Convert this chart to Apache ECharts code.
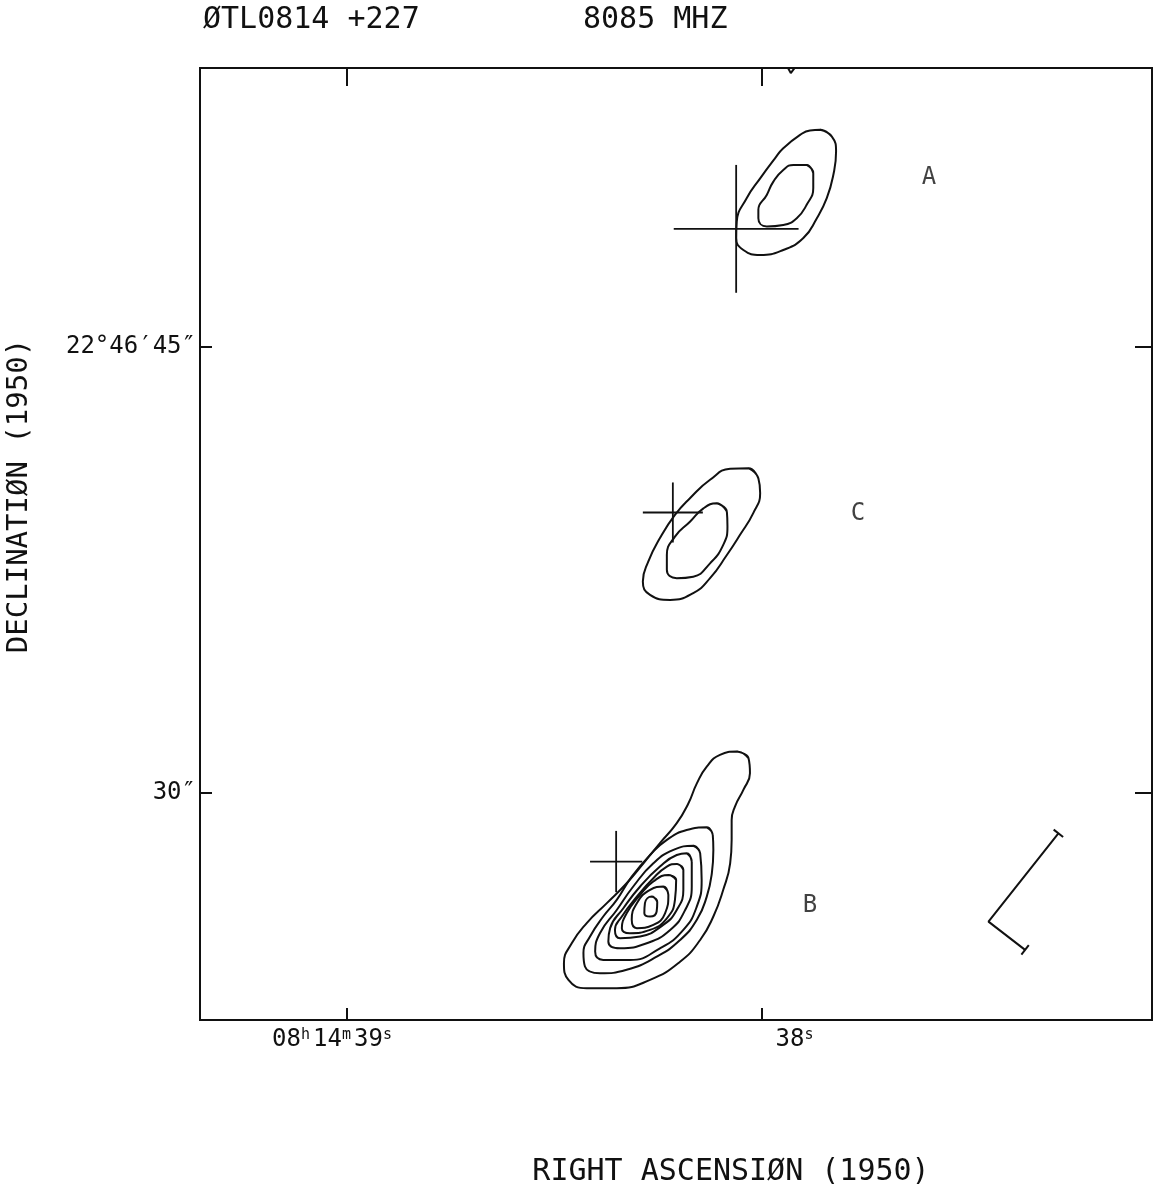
<!DOCTYPE html>
<html><head><meta charset="utf-8">
<script src="https://cdn.jsdelivr.net/npm/echarts@6/dist/echarts.min.js"></script>
<style>html,body{margin:0;padding:0;background:#fff}#c{width:1154px;height:1192px}</style>
</head><body><div id="c"></div><script>
// x: arcsec west of RA 08h14m39s (1s of time = 13.83"), y: Dec arcsec of 22°46'
const raTicks = [0, 13.83];
const raTickLabels = [['08','h','14','m','39','s'], ['38','s']];
const decTicks = [30, 45];
const decTickLabels = ['30″', '22°46′45″'];
const xRange = [-4.9, 26.83];
const yRange = [22.36, 54.38];

// component A
const contourA1 = [[15.77,52.30],[16.16,52.07],[16.30,51.57],[16.21,50.79],[15.99,50.00],[15.66,49.33],[15.21,48.66],[14.54,48.26],[13.77,48.09],[13.21,48.26],[12.97,48.66],[12.99,49.21],[13.32,50.00],[13.77,50.67],[14.27,51.35],[14.54,51.68],[15.10,52.13],[15.43,52.28]];
const contourA2 = [[15.32,51.12],[15.54,50.84],[15.54,50.34],[15.32,49.78],[14.99,49.33],[14.54,49.10],[13.99,49.05],[13.71,49.33],[13.71,49.61],[13.99,50.11],[14.21,50.56],[14.54,50.95],[14.88,51.12]];
// component C
const contourC1 = [[13.38,40.92],[13.71,40.58],[13.77,40.08],[13.54,39.41],[13.10,38.68],[12.66,38.00],[12.10,37.22],[11.54,36.72],[10.77,36.49],[10.10,36.66],[9.86,37.11],[10.04,37.78],[10.43,38.57],[10.93,39.35],[11.43,39.91],[12.10,40.53],[12.77,40.90]];
const contourC2 = [[12.32,39.74],[12.66,39.46],[12.68,38.96],[12.54,38.34],[12.10,37.72],[11.54,37.27],[10.99,37.22],[10.66,37.50],[10.66,38.00],[10.93,38.62],[11.43,39.12],[11.88,39.57]];
// component B
const contourB1 = [[12.99,31.39],[13.38,31.17],[13.43,30.66],[13.21,30.10],[12.93,29.54],[12.82,29.09],[12.82,28.42],[12.77,27.63],[12.54,26.74],[12.21,25.84],[11.77,25.05],[11.10,24.32],[10.10,23.71],[8.99,23.43],[7.99,23.43],[7.38,23.71],[7.23,24.27],[7.49,24.94],[7.99,25.62],[8.66,26.29],[9.32,26.96],[9.88,27.63],[10.43,28.31],[10.99,28.98],[11.38,29.65],[11.66,30.32],[11.99,30.88],[12.43,31.28]];
const contourB2 = [[11.99,28.84],[12.19,28.59],[12.21,28.08],[12.16,27.30],[11.99,26.51],[11.66,25.73],[11.10,25.05],[10.32,24.49],[9.32,24.05],[8.43,23.93],[7.93,24.16],[7.88,24.61],[8.10,25.17],[8.54,25.84],[8.99,26.40],[9.49,27.18],[10.10,27.91],[10.66,28.42],[11.32,28.75]];
const contourB3 = [[11.54,28.22],[11.77,27.97],[11.82,27.07],[11.66,26.18],[11.21,25.39],[10.43,24.77],[9.43,24.38],[8.54,24.38],[8.27,24.66],[8.43,25.28],[8.99,26.06],[9.54,26.85],[10.21,27.63],[10.88,28.08]];
const contourB4 = [[11.32,27.97],[11.49,27.69],[11.49,26.85],[11.27,26.06],[10.77,25.39],[9.99,24.94],[9.10,24.77],[8.71,25.00],[8.77,25.45],[9.21,26.12],[9.77,26.85],[10.43,27.52],[10.99,27.91]];
const contourB5 = [[10.99,27.61],[11.21,27.41],[11.21,26.74],[10.99,26.06],[10.54,25.56],[9.77,25.17],[9.10,25.11],[8.93,25.39],[9.16,25.84],[9.66,26.51],[10.21,27.13],[10.66,27.52]];
const contourB6 = [[10.71,27.24],[10.97,27.07],[10.93,26.40],[10.66,25.78],[10.10,25.39],[9.43,25.28],[9.16,25.45],[9.32,25.95],[9.77,26.57],[10.21,27.02]];
const contourB7 = [[10.54,26.85],[10.71,26.57],[10.60,25.95],[10.21,25.56],[9.66,25.45],[9.49,25.73],[9.66,26.29],[10.10,26.74]];
const contourB8 = [[10.16,26.51],[10.34,26.34],[10.32,26.01],[10.10,25.84],[9.91,25.95],[9.93,26.29]];
// contour fragment entering at the top edge
const edgeContour = [[14.66,54.45],[14.79,54.21],[14.97,54.45]];

// optical positions: [x, y, half-width x, half-height y]
const crossA = [12.97, 48.97, 2.08, 2.15];
const crossC = [10.86, 39.43, 1.00, 1.01];
const crossB = [8.97, 27.69, 0.87, 1.03];

// component labels
const compNames = ['A', 'C', 'B'];
const compLabelPos = [[19.40, 50.68], [17.03, 39.38], [15.43, 26.20]];

// beam marker: corner, end of major arm, end of minor arm
const beamCorner = [21.38, 25.67];
const beamMajorEnd = [23.71, 28.64];
const beamMinorEnd = [22.60, 24.72];

const INK = '#111';
const MONO = 'DejaVu Sans Mono';
function closed(pts) { return pts.concat([pts[0], pts[1]]); }
function lineS(data, smooth, width) {
  return { type: 'line', data: data, symbol: 'none', smooth: smooth, silent: true,
    connectNulls: false, lineStyle: { color: INK, width: width }, z: 3 };
}
const series = [];
[contourA1, contourA2, contourC1, contourC2, contourB1, contourB2, contourB3, contourB4,
 contourB5, contourB6, contourB7, contourB8].forEach(c => series.push(lineS(closed(c), 0.5, 2)));
series.push(lineS(edgeContour, false, 2));
[crossA, crossC, crossB].forEach(c => {
  series.push(lineS([[c[0]-c[2], c[1]], [c[0]+c[2], c[1]]], false, 1.8));
  series.push(lineS([[c[0], c[1]-c[3]], [c[0], c[1]+c[3]]], false, 1.8));
});
// beam marker with end caps perpendicular to each arm
function cap(end, from, h) {
  const dx = end[0]-from[0], dy = end[1]-from[1], L = Math.hypot(dx, dy);
  const px = -dy / L * h, py = dx / L * h;
  return [[end[0]+px, end[1]+py], [end[0]-px, end[1]-py]];
}
series.push(lineS([beamMajorEnd, beamCorner, beamMinorEnd], false, 2));
series.push(lineS(cap(beamMajorEnd, beamCorner, 0.2), false, 2));
series.push(lineS(cap(beamMinorEnd, beamCorner, 0.2), false, 2));
series.push({ type: 'scatter', symbolSize: 0, silent: true,
  data: compLabelPos.map((p, i) => ({ value: p, name: compNames[i] })),
  label: { show: true, position: 'inside', formatter: p => p.name,
    fontFamily: MONO, fontSize: 24, color: INK } });

const chart = echarts.init(document.getElementById('c'), null, { renderer: 'canvas' });
const tickStyle = { color: INK, width: 2 };
const noLine = { show: false, onZero: false };
chart.setOption({
  animation: false,
  backgroundColor: '#fff',
  grid: { left: 200, right: 2, top: 68, bottom: 172, show: true, borderColor: INK, borderWidth: 2,
    backgroundColor: 'transparent', outerBoundsMode: 'none' },
  xAxis: [
    { type: 'value', position: 'bottom', min: xRange[0], max: xRange[1],
      axisLine: noLine, splitLine: { show: false },
      axisTick: { show: true, inside: true, length: 12, customValues: raTicks, lineStyle: tickStyle },
      axisLabel: { show: true, customValues: raTicks, margin: 8, color: INK,
        formatter: v => {
          const i = raTicks.findIndex(t => Math.abs(t - v) < 1e-6);
          const parts = raTickLabels[i];
          let s = '';
          for (let k = 0; k < parts.length; k += 2) s += '{n|' + parts[k] + '}{s|' + parts[k+1] + '}';
          return i === 0 ? s + '{g1| }' : '{g2| }' + s;
        },
        rich: {
          n: { fontFamily: MONO, fontSize: 24, color: INK },
          s: { fontFamily: MONO, fontSize: 15, color: INK, verticalAlign: 'top', padding: [0, 3, 0, 0] },
          g1: { width: 27, fontSize: 24 },
          g2: { width: 68, fontSize: 24 }
        } } },
    { type: 'value', position: 'top', min: xRange[0], max: xRange[1],
      axisLine: noLine, splitLine: { show: false }, axisLabel: { show: false },
      axisTick: { show: true, inside: true, length: 18, customValues: raTicks, lineStyle: tickStyle } }
  ],
  yAxis: [
    { type: 'value', position: 'left', min: yRange[0], max: yRange[1],
      axisLine: noLine, splitLine: { show: false },
      axisTick: { show: true, inside: true, length: 12, customValues: decTicks, lineStyle: tickStyle },
      axisLabel: { show: true, customValues: decTicks, margin: 4, color: INK, fontFamily: MONO, fontSize: 24,
        formatter: v => decTickLabels[decTicks.findIndex(t => Math.abs(t - v) < 1e-6)] } },
    { type: 'value', position: 'right', min: yRange[0], max: yRange[1],
      axisLine: noLine, splitLine: { show: false }, axisLabel: { show: false },
      axisTick: { show: true, inside: true, length: 17, customValues: decTicks, lineStyle: tickStyle } }
  ],
  graphic: [
    { type: 'text', x: 203, y: 20, style: { text: 'ØTL0814 +227', font: '30px "DejaVu Sans Mono"', fill: INK, verticalAlign: 'middle' } },
    { type: 'text', x: 583, y: 20, style: { text: '8085 MHZ', font: '30px "DejaVu Sans Mono"', fill: INK, verticalAlign: 'middle' } },
    { type: 'text', x: 731, y: 1172, style: { text: 'RIGHT ASCENSIØN (1950)', font: '30px "DejaVu Sans Mono"', fill: INK, align: 'center', verticalAlign: 'middle' } },
    { type: 'text', x: 19, y: 496, rotation: Math.PI / 2, style: { text: 'DECLINATIØN (1950)', font: '29px "DejaVu Sans Mono"', fill: INK, align: 'center', verticalAlign: 'middle' } }
  ],
  series: series
});
</script></body></html>
